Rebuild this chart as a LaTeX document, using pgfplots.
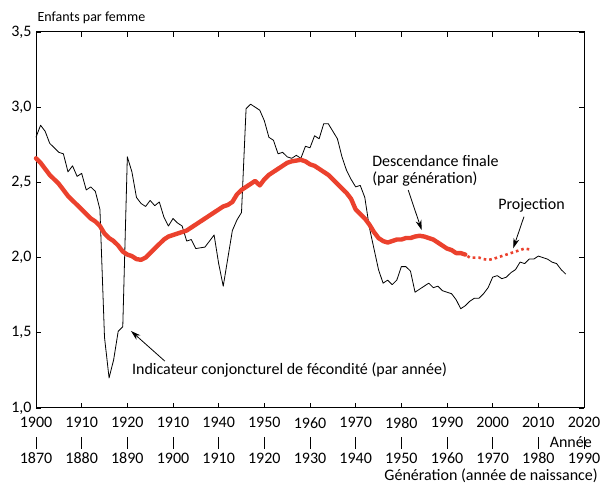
\documentclass[border=0pt]{standalone}
\usepackage{fontspec}
\setmainfont{Carlito}
\usepackage{pgfplots}
\pgfplotsset{compat=1.18}
\usetikzlibrary{arrows.meta}
\definecolor{rouge}{RGB}{235,65,45}

\begin{document}
\fontsize{16bp}{19bp}\selectfont
\begin{tikzpicture}[x=1bp,y=1bp]
\begin{axis}[name=ax, at={(0,0)}, anchor=south west,
  scale only axis, width=548bp, height=376bp,
  xmin=1900, xmax=2020, ymin=1, ymax=3.5,
  xtick={1900,1910,1920,1930,1940,1950,1960,1970,1980,1990,2000,2010,2020},
  xticklabels={1900,1910,1920,1910,1940,1950,1960,1970,1980,1990,2000,2010,2020},
  ytick={1,1.5,2,2.5,3,3.5},
  yticklabels={{1,0},{1,5},{2,0},{2,5},{3,0},{3,5}},
  tick align=inside, major tick length=5bp,
  tick style={line width=0.8pt, black},
  axis line style={line width=1pt},
  /pgf/number format/assume math mode=true,
  ticklabel style={font=\fontsize{16bp}{19bp}\selectfont},
  xticklabel style={inner sep=0pt, yshift=-9bp},
  yticklabel style={xshift=1bp},
  clip=false,
]
\addplot[black, line width=0.8bp, line join=round] coordinates {
(1900,2.80)(1901,2.88)(1902,2.84)(1903,2.76)(1904,2.73)(1905,2.70)(1906,2.69)(1907,2.57)(1908,2.61)(1909,2.54)
(1910,2.56)(1911,2.45)(1912,2.47)(1913,2.44)(1914,2.32)(1915,1.47)(1916,1.20)(1917,1.32)(1918,1.51)(1919,1.54)
(1920,2.67)(1921,2.57)(1922,2.40)(1923,2.36)(1924,2.34)(1925,2.38)(1926,2.345)(1927,2.37)(1928,2.27)(1929,2.21)
(1930,2.26)(1931,2.23)(1932,2.21)(1933,2.11)(1934,2.12)(1935,2.06)(1936,2.065)(1937,2.07)(1938,2.11)(1939,2.15)
(1940,1.96)(1941,1.81)(1942,1.995)(1943,2.18)(1944,2.25)(1945,2.30)(1946,2.99)(1947,3.02)(1948,3.00)(1949,2.98)
(1950,2.91)(1951,2.80)(1952,2.78)(1953,2.69)(1954,2.70)(1955,2.67)(1956,2.66)(1957,2.68)(1958,2.66)(1959,2.74)
(1960,2.73)(1961,2.81)(1962,2.79)(1963,2.89)(1964,2.89)(1965,2.84)(1966,2.79)(1967,2.67)(1968,2.58)(1969,2.52)
(1970,2.47)(1971,2.48)(1972,2.40)(1973,2.20)(1974,2.06)(1975,1.92)(1976,1.83)(1977,1.85)(1978,1.82)(1979,1.85)
(1980,1.94)(1981,1.94)(1982,1.91)(1983,1.77)(1984,1.79)(1985,1.81)(1986,1.83)(1987,1.80)(1988,1.81)(1989,1.78)
(1990,1.77)(1991,1.76)(1992,1.72)(1993,1.66)(1994,1.68)(1995,1.71)(1996,1.73)(1997,1.73)(1998,1.76)(1999,1.80)
(2000,1.87)(2001,1.88)(2002,1.86)(2003,1.87)(2004,1.90)(2005,1.92)(2006,1.97)(2007,1.96)(2008,1.99)(2009,1.99)
(2010,2.01)(2011,2.00)(2012,1.99)(2013,1.97)(2014,1.96)(2015,1.92)(2016,1.89)
};
\addplot[rouge, line width=4.4bp, line join=round, line cap=round] coordinates {
(1900,2.66)(1901,2.63)(1902,2.59)(1903,2.55)(1904,2.52)(1905,2.49)(1906,2.45)(1907,2.41)(1908,2.38)(1909,2.35)
(1910,2.32)(1911,2.29)(1912,2.26)(1913,2.24)(1914,2.21)(1915,2.16)(1916,2.13)(1917,2.11)(1918,2.08)(1919,2.04)
(1920,2.02)(1921,2.01)(1922,1.99)(1923,1.985)(1924,2.00)(1925,2.03)(1926,2.06)(1927,2.09)(1928,2.12)(1929,2.14)
(1930,2.15)(1931,2.16)(1932,2.17)(1933,2.18)(1934,2.20)(1935,2.22)(1936,2.24)(1937,2.26)(1938,2.28)(1939,2.30)
(1940,2.32)(1941,2.34)(1942,2.35)(1943,2.37)(1944,2.42)(1945,2.45)(1946,2.47)(1947,2.49)(1948,2.51)(1949,2.48)
(1950,2.52)(1951,2.55)(1952,2.57)(1953,2.59)(1954,2.61)(1955,2.63)(1956,2.64)(1957,2.645)(1958,2.65)(1959,2.64)
(1960,2.62)(1961,2.61)(1962,2.59)(1963,2.57)(1964,2.55)(1965,2.52)(1966,2.49)(1967,2.46)(1968,2.43)(1969,2.39)
(1970,2.32)(1971,2.29)(1972,2.26)(1973,2.22)(1974,2.17)(1975,2.13)(1976,2.11)(1977,2.10)(1978,2.11)(1979,2.12)
(1980,2.12)(1981,2.13)(1982,2.13)(1983,2.14)(1984,2.145)(1985,2.14)(1986,2.13)(1987,2.12)(1988,2.10)(1989,2.08)
(1990,2.06)(1991,2.05)(1992,2.03)(1993,2.03)(1994,2.02)
};
\addplot[rouge, line width=2.6bp, dash pattern=on 2.6bp off 3bp] coordinates {
(1994.5,2.01)(1995,2.00)(1996,2.00)(1997,2.00)(1998,1.99)(1999,1.985)(2000,1.99)(2001,2.00)(2002,2.01)(2003,2.02)
(2004,2.03)(2005,2.04)(2006,2.05)(2007,2.06)(2008,2.055)(2008.5,2.045)
};
\node[anchor=west, inner sep=0pt, font=\fontsize{14bp}{17bp}\selectfont] at (axis cs:1900.3,3.593) {Enfants par femme};
\node[anchor=west, inner sep=0pt] at (axis cs:1973.6,2.64) {Descendance finale};
\node[anchor=west, inner sep=0pt] at (axis cs:1973.6,2.52) {(par génération)};
\node[anchor=west, inner sep=0pt] at (axis cs:2001.2,2.35) {Projection};
\node[anchor=west, inner sep=0pt] at (axis cs:1921.0,1.253) {Indicateur conjoncturel de fécondité (par année)};
\draw[line width=0.8bp, -{Stealth[length=10bp,width=6bp]}] (axis cs:1981.5,2.449) -- (axis cs:1984.45,2.183);
\draw[line width=0.8bp, -{Stealth[length=10bp,width=6bp]}] (axis cs:2006.85,2.272) -- (axis cs:2004.5,2.062);
\draw[line width=0.8bp, -{Stealth[length=10bp,width=6bp]}] (axis cs:1928.2,1.312) -- (axis cs:1920.8,1.512);
\end{axis}
\foreach \i [evaluate=\i as \g using {int(1870+10*\i)}] in {0,...,12} {
  \draw[line width=0.8pt] (\i*45.6667,-29.5) -- (\i*45.6667,-41);
  \node[inner sep=0pt] at (\i*45.6667,-50.5) {\g};
}
\node[anchor=east, inner sep=0pt] at (556,-34) {Année};
\node[anchor=east, inner sep=0pt] at (562,-67.5) {Génération (année de naissance)};
\pgfresetboundingbox
\useasboundingbox (-36,-76) rectangle (565,408);
\end{tikzpicture}
\end{document}
